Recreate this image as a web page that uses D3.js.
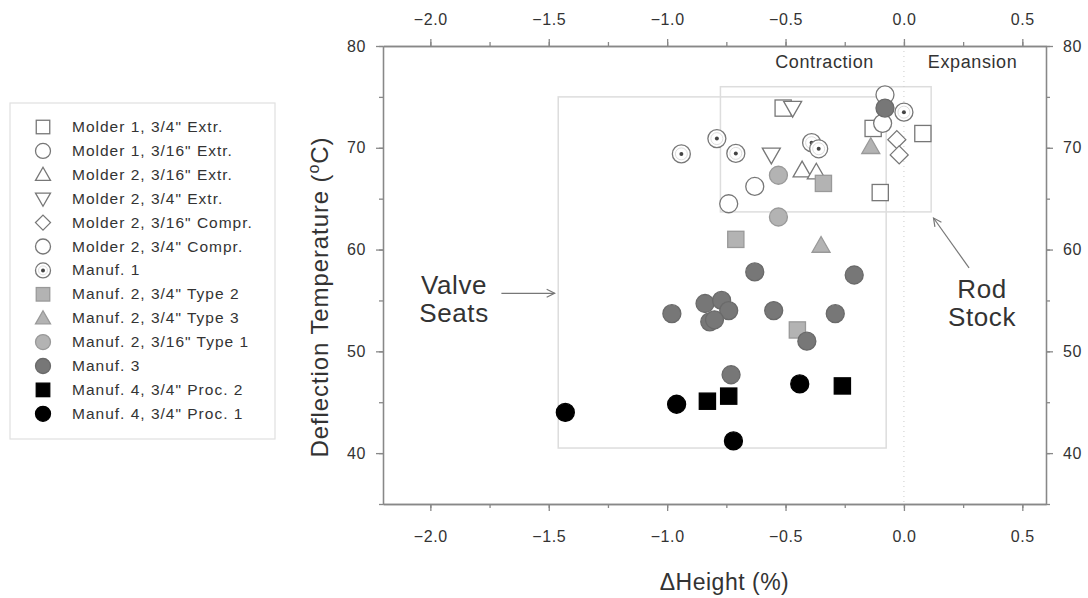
<!DOCTYPE html>
<html>
<head>
<meta charset="utf-8">
<script src="https://cdn.jsdelivr.net/npm/d3@7"></script>
<style>
body { margin:0; background:#fff; }
svg text { font-family:"Liberation Sans", Arial, sans-serif; fill:#333; }
.tick-lbl { font-size:16px; letter-spacing:0.6px; }
.leg-lbl { font-size:15.5px; letter-spacing:1px; }
</style>
</head>
<body>
<div id="chart"></div>
<script>

/* data: [deltaHeight %, deflection temp C] */
var seriesNames = ["Molder 1, 3/4\" Extr.", "Molder 1, 3/16\" Extr.", "Molder 2, 3/16\" Extr.",
  "Molder 2, 3/4\" Extr.", "Molder 2, 3/16\" Compr.", "Molder 2, 3/4\" Compr.", "Manuf. 1",
  "Manuf. 2, 3/4\" Type 2", "Manuf. 2, 3/4\" Type 3", "Manuf. 2, 3/16\" Type 1", "Manuf. 3",
  "Manuf. 4, 3/4\" Proc. 2", "Manuf. 4, 3/4\" Proc. 1"]
var molder1_34 = [[-0.51,73.9],[-0.13,71.9],[0.08,71.4],[-0.10,65.6]]
var molder1_316 = [[-0.08,75.2],[-0.09,72.4]]
var molder2_316 = [[-0.43,67.8],[-0.37,67.6]]
var molder2_34 = [[-0.47,73.9],[-0.56,69.3]]
var molder2_316c = [[-0.03,70.8],[-0.02,69.3]]
var molder2_34c = [[-0.63,66.2],[-0.74,64.5]]
var manuf1 = [[-0.94,69.4],[-0.79,70.9],[-0.71,69.45],[-0.39,70.5],[-0.36,69.9],[0.0,73.5]]
var manuf2_t2 = [[-0.71,61.0],[-0.34,66.5],[-0.45,52.1]]
var manuf2_t3 = [[-0.35,60.4],[-0.14,70.1]]
var manuf2_t1 = [[-0.53,67.3],[-0.53,63.2]]
var manuf3 = [[-0.08,73.9],[-0.63,57.8],[-0.21,57.5],[-0.98,53.7],[-0.84,54.7],[-0.77,55.0],
  [-0.74,54.0],[-0.82,52.9],[-0.80,53.1],[-0.55,54.0],[-0.29,53.7],[-0.41,51.0],[-0.73,47.7]]
var manuf4_p2 = [[-0.83,45.1],[-0.74,45.6],[-0.26,46.6]]
var manuf4_p1 = [[-1.43,44.0],[-0.96,44.8],[-0.44,46.8],[-0.72,41.2]]

var xTicks = [-2.0,-1.5,-1.0,-0.5,0.0,0.5]
var yTicks = [40,50,60,70,80]

/* boxes: [x0, x1, y0, y1] in data units */
var valveBox = [-1.46,-0.075,40.5,75]
var rodBox = [-0.775,0.115,63.7,76]

/* marker styles per series */
var marks = [
  {shape:"square", fill:"#fff", stroke:"#777"},
  {shape:"circle", fill:"#fff", stroke:"#777"},
  {shape:"triangle", fill:"#fff", stroke:"#777"},
  {shape:"down", fill:"#fff", stroke:"#777"},
  {shape:"diamond", fill:"#fff", stroke:"#777"},
  {shape:"circle", fill:"#fff", stroke:"#777"},
  {shape:"dot", fill:"#fff", stroke:"#777"},
  {shape:"square", fill:"#b3b3b3", stroke:"#999"},
  {shape:"triangle", fill:"#b3b3b3", stroke:"#999"},
  {shape:"circle", fill:"#b3b3b3", stroke:"#999"},
  {shape:"circle", fill:"#777", stroke:"#6a6a6a"},
  {shape:"square", fill:"#000", stroke:"#000"},
  {shape:"circle", fill:"#000", stroke:"#000"}
]
var allSeries = [molder1_34, molder1_316, molder2_316, molder2_34, molder2_316c, molder2_34c,
  manuf1, manuf2_t2, manuf2_t3, manuf2_t1, manuf3, manuf4_p2, manuf4_p1]

var width = 1088, height = 598
var plot = {left:383, right:1046, top:46, bottom:504}

var svg = d3.select("#chart").append("svg")
  .attr("width",width)
  .attr("height",height)

var x = d3.scaleLinear().domain([-2.2,0.6]).range([plot.left,plot.right])
var y = d3.scaleLinear().domain([35,80]).range([plot.bottom,plot.top])

svg.append("defs").append("marker")
  .attr("id","arr")
  .attr("viewBox","0 0 10 10")
  .attr("refX",9).attr("refY",5)
  .attr("markerWidth",10).attr("markerHeight",10)
  .attr("markerUnits","userSpaceOnUse")
  .attr("orient","auto")
  .append("path")
  .attr("d","M1,1 L9,5 L1,9")
  .attr("fill","none")
  .attr("stroke","#777")
  .attr("stroke-width",1.2)

/* boxes and zero line */
function drawBox(b) {
  svg.append("rect")
    .attr("x",x(b[0]))
    .attr("y",y(b[3]))
    .attr("width",x(b[1]) - x(b[0]))
    .attr("height",y(b[2]) - y(b[3]))
    .attr("fill","none")
    .attr("stroke","#ddd")
    .attr("stroke-width",1.5)
}
drawBox(valveBox)
drawBox(rodBox)

svg.append("line")
  .attr("x1",x(0)).attr("x2",x(0))
  .attr("y1",plot.top).attr("y2",plot.bottom)
  .attr("stroke","#ccc")
  .attr("stroke-dasharray","1,4")

/* axes */
function styleAxis(g) {
  g.selectAll("path,line").attr("stroke","#888").attr("stroke-width",1.3)
  g.selectAll("text").attr("class","tick-lbl").attr("fill","#333")
}
var xMinor = d3.range(-2.0,0.6,0.25)
var yMinor = d3.range(35,81,5)

svg.append("g").attr("transform","translate(0," + plot.bottom + ")")
  .call(d3.axisBottom(x).tickValues(xMinor).tickSize(4).tickFormat("").tickSizeOuter(0))
  .call(styleAxis)
svg.append("g").attr("transform","translate(0," + plot.bottom + ")")
  .call(d3.axisBottom(x).tickValues(xTicks).tickSize(7).tickPadding(20).tickFormat(d3.format(".1f")).tickSizeOuter(0))
  .call(styleAxis)
svg.append("g").attr("transform","translate(0," + plot.top + ")")
  .call(d3.axisTop(x).tickValues(xMinor).tickSize(4).tickFormat("").tickSizeOuter(0))
  .call(styleAxis)
svg.append("g").attr("transform","translate(0," + plot.top + ")")
  .call(d3.axisTop(x).tickValues(xTicks).tickSize(7).tickPadding(14).tickFormat(d3.format(".1f")).tickSizeOuter(0))
  .call(styleAxis)
svg.append("g").attr("transform","translate(" + plot.left + ",0)")
  .call(d3.axisLeft(y).tickValues(yMinor).tickSize(4).tickFormat("").tickSizeOuter(0))
  .call(styleAxis)
svg.append("g").attr("transform","translate(" + plot.left + ",0)")
  .call(d3.axisLeft(y).tickValues(yTicks).tickSize(7).tickPadding(10).tickSizeOuter(0))
  .call(styleAxis)
svg.append("g").attr("transform","translate(" + plot.right + ",0)")
  .call(d3.axisRight(y).tickValues(yMinor).tickSize(4).tickFormat("").tickSizeOuter(0))
  .call(styleAxis)
svg.append("g").attr("transform","translate(" + plot.right + ",0)")
  .call(d3.axisRight(y).tickValues(yTicks).tickSize(7).tickPadding(10).tickSizeOuter(0))
  .call(styleAxis)

/* axis titles */
svg.append("text")
  .attr("x",(plot.left + plot.right) / 2 + 10)
  .attr("y",590)
  .attr("text-anchor","middle")
  .style("font-size","23px")
  .style("letter-spacing","0.5px")
  .text("\u0394Height (%)")
var yTitle = svg.append("text")
  .attr("transform","translate(328," + ((plot.top + plot.bottom) / 2 + 22) + ") rotate(-90)")
  .attr("text-anchor","middle")
  .style("font-size","24px")
  .style("letter-spacing","0.9px")
yTitle.append("tspan").text("Deflection Temperature (")
yTitle.append("tspan").attr("dy",-9).style("font-size","16px").text("o")
yTitle.append("tspan").attr("dy",9).text("C)")

/* annotations */
svg.append("text")
  .attr("x",x(-0.335)).attr("y",68)
  .attr("text-anchor","middle")
  .style("font-size","18px").style("letter-spacing","0.6px")
  .text("Contraction")
svg.append("text")
  .attr("x",x(0.29)).attr("y",68)
  .attr("text-anchor","middle")
  .style("font-size","18px").style("letter-spacing","0.6px")
  .text("Expansion")

var valveText = svg.append("text")
  .attr("text-anchor","middle")
  .style("font-size","26px").style("letter-spacing","0.6px")
valveText.append("tspan").attr("x",x(-1.9)).attr("y",y(55.6)).text("Valve")
valveText.append("tspan").attr("x",x(-1.9)).attr("dy",28).text("Seats")
svg.append("line")
  .attr("x1",x(-1.7)).attr("x2",x(-1.475))
  .attr("y1",y(55.7)).attr("y2",y(55.7))
  .attr("stroke","#777").attr("stroke-width",1.2)
  .attr("marker-end","url(#arr)")

var rodText = svg.append("text")
  .attr("text-anchor","middle")
  .style("font-size","26px").style("letter-spacing","0.6px")
rodText.append("tspan").attr("x",x(0.33)).attr("y",y(55.2)).text("Rod")
rodText.append("tspan").attr("x",x(0.33)).attr("dy",28).text("Stock")
svg.append("line")
  .attr("x1",x(0.275)).attr("x2",x(0.125))
  .attr("y1",y(58.2)).attr("y2",y(63.1))
  .attr("stroke","#777").attr("stroke-width",1.2)
  .attr("marker-end","url(#arr)")

/* markers */
function drawMark(g, m, cx, cy, s) {
  var r = s / 2
  if (m.shape == "circle" || m.shape == "dot") {
    g.append("circle").attr("cx",cx).attr("cy",cy).attr("r",r)
      .attr("fill",m.fill).attr("stroke",m.stroke).attr("stroke-width",1.3)
    if (m.shape == "dot") {
      g.append("circle").attr("cx",cx).attr("cy",cy).attr("r",r - 3)
        .attr("fill","none").attr("stroke","#ddd").attr("stroke-width",1)
      g.append("circle").attr("cx",cx).attr("cy",cy).attr("r",2)
        .attr("fill","#444")
    }
  }
  else if (m.shape == "square") {
    g.append("rect").attr("x",cx - r * 0.9).attr("y",cy - r * 0.9)
      .attr("width",r * 1.8).attr("height",r * 1.8)
      .attr("fill",m.fill).attr("stroke",m.stroke).attr("stroke-width",1.3)
  }
  else if (m.shape == "diamond") {
    var p = [[cx,cy - r],[cx + r,cy],[cx,cy + r],[cx - r,cy]]
    g.append("path").attr("d","M" + p.join("L") + "Z")
      .attr("fill",m.fill).attr("stroke",m.stroke).attr("stroke-width",1.3)
  }
  else {
    var dir = m.shape == "down" ? -1 : 1
    var t = [[cx,cy - dir * r],[cx + r,cy + dir * r * 0.75],[cx - r,cy + dir * r * 0.75]]
    g.append("path").attr("d","M" + t.join("L") + "Z")
      .attr("fill",m.fill).attr("stroke",m.stroke).attr("stroke-width",1.3)
  }
}

var pts = svg.append("g")
allSeries.forEach(function(d,i) {
  d.forEach(function(p) {
    drawMark(pts, marks[i], x(p[0]), y(p[1]), 18)
  })
})

/* legend */
var leg = svg.append("g")
leg.append("rect")
  .attr("x",10).attr("y",103)
  .attr("width",265).attr("height",336)
  .attr("fill","#fff")
  .attr("stroke","#e0e0e0")
  .attr("stroke-width",1.2)
seriesNames.forEach(function(name,i) {
  var ly = 127 + i * 23.9
  drawMark(leg, marks[i], 43, ly, 15)
  leg.append("text")
    .attr("class","leg-lbl")
    .attr("x",72)
    .attr("y",ly + 5)
    .text(name)
})

</script>
</body>
</html>
